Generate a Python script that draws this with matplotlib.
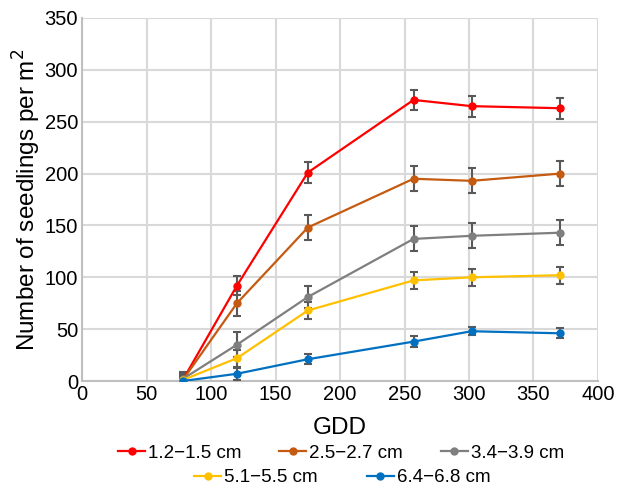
import matplotlib.pyplot as plt
import numpy as np

plt.rcParams['font.family'] = ['Liberation Sans', 'DejaVu Sans']

# data
gdd = [78, 120, 175, 257, 302, 371]
labels = ["1.2\u22121.5 cm", "2.5\u22122.7 cm", "3.4\u22123.9 cm",
          "5.1\u22125.5 cm", "6.4\u22126.8 cm"]
colors = ["#FF0000", "#C55A11", "#7F7F7F", "#FFC000", "#0070C0"]
s1 = [1, 92, 201, 271, 265, 263]
s2 = [1, 75, 148, 195, 193, 200]
s3 = [2, 35, 81, 137, 140, 143]
s4 = [1, 22, 68, 97, 100, 102]
s5 = [0, 7, 21, 38, 48, 46]
e1 = [5, 9, 10, 10, 10, 10]
e2 = [6, 12, 12, 12, 12, 12]
e3 = [7, 12, 11, 12, 12, 12]
e4 = [4, 8, 8, 8, 8, 8]
e5 = [3, 6, 5, 5, 4, 5]
series = [s1, s2, s3, s4, s5]
errors = [e1, e2, e3, e4, e5]

fig = plt.figure(figsize=(6.28, 4.86), dpi=100)
ax = fig.add_axes([0.131, 0.216, 0.821, 0.747])

handles = []
for y, err, c, lab in zip(series, errors, colors, labels):
    ax.errorbar(gdd, y, yerr=err, fmt='none', ecolor='#595959',
                elinewidth=1.5, capsize=3, capthick=1.5, zorder=3)
    h, = ax.plot(gdd, y, color=c, lw=1.6, marker='o', ms=5, label=lab, zorder=4)
    handles.append(h)

ax.set_xlim(0, 400)
ax.set_ylim(0, 350)
ax.set_xticks(np.arange(0, 401, 50))
ax.set_yticks(np.arange(0, 351, 50))
ax.grid(color='#D9D9D9', lw=1.5)
ax.set_axisbelow(True)
for side in ['top', 'right']:
    ax.spines[side].set_visible(False)
for side in ['left', 'bottom']:
    ax.spines[side].set_color('#BFBFBF')
    ax.spines[side].set_linewidth(1.5)
ax.tick_params(length=0, labelsize=14.5, pad=3)
ax.set_xlabel('GDD', fontsize=17.5, labelpad=9)
ax.set_ylabel('Number of seedlings per m$^2$', fontsize=17.5, labelpad=1)

leg1 = fig.legend(handles[:3], labels[:3], ncol=3, loc='center',
                  bbox_to_anchor=(0.543, 0.067), frameon=False, fontsize=13.5,
                  handlelength=1.45, handletextpad=0.16, columnspacing=2.0,
                  borderpad=0, borderaxespad=0)
fig.legend(handles[3:], labels[3:], ncol=2, loc='center',
           bbox_to_anchor=(0.545, 0.017), frameon=False, fontsize=13.5,
           handlelength=1.45, handletextpad=0.16, columnspacing=2.6,
           borderpad=0, borderaxespad=0)

fig.savefig('out.png', dpi=100)
